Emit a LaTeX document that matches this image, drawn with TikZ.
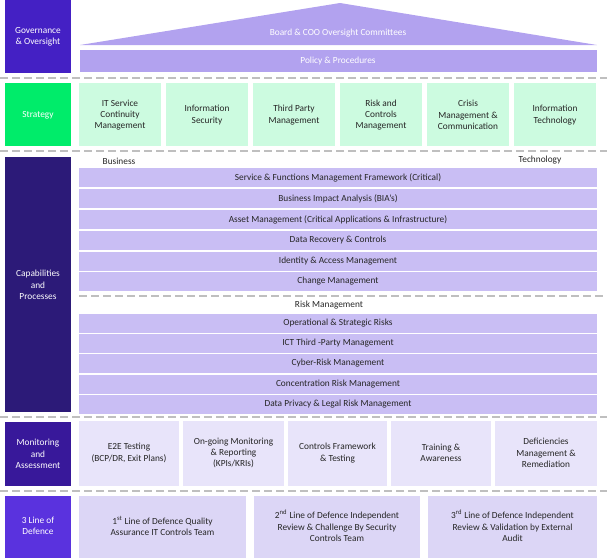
\documentclass[tikz,border=0pt]{standalone}
\usepackage{fontspec}
\setmainfont{Carlito}
\begin{document}
\begin{tikzpicture}[x=0.75pt,y=-0.75pt,
  lab/.style={font=\fontsize{7}{8.5}\selectfont,align=center,text=white},
  txt/.style={font=\fontsize{7}{8.5}\selectfont,align=center,text=black!85},
  sepline/.style={draw=black!25,line width=1.5pt,dash pattern=on 6pt off 3pt}]
\definecolor{govc}{HTML}{4420C4}
\definecolor{stratc}{HTML}{00EC6A}
\definecolor{capc}{HTML}{2C1A78}
\definecolor{monl}{HTML}{38189A}
\definecolor{lodl}{HTML}{5A32DE}
\definecolor{roofc}{HTML}{B2A2EF}
\definecolor{sgreen}{HTML}{CCFBE0}
\definecolor{barc}{HTML}{C9BEF4}
\definecolor{monc}{HTML}{E8E4FA}
\definecolor{lodc}{HTML}{DCD6F6}
\useasboundingbox (0,0) rectangle (607,558);
% left column
\fill[govc] (5,0) rectangle (71,73); \node[lab] (g) at (38,37) {Governance\\\& Oversight};
\fill[stratc] (5,83) rectangle (71,146); \node[lab] (s) at (38,115) {Strategy};
\fill[capc] (5,157) rectangle (71,412); \node[lab] (c) at (38,285) {Capabilities\\and\\Processes};
\fill[monl] (5,422) rectangle (71,486); \node[lab] (m) at (38,454) {Monitoring\\and\\Assessment};
\fill[lodl] (5,496) rectangle (71,558); \node[lab] (l) at (38,526) {3 Line of\\Defence};
% dashed separators
\foreach \y in {78,151,417,491} \draw[sepline] (0,\y) -- (607,\y);
\draw[sepline] (79,296) -- (607,296);
% governance
\fill[roofc] (80,45) -- (340,3) -- (597,45) -- cycle;
\node[txt,text=white] (b) at (338,33) {Board \& COO Oversight Committees};
\fill[roofc] (80,50) rectangle (597,72);
\node[txt,text=white] (p) at (338,61) {Policy \& Procedures};
% strategy
\foreach \i/\t in {0/{IT Service\\Continuity\\Management},1/{Information\\Security},2/{Third Party\\Management},3/{Risk and\\Controls\\Management},4/{Crisis\\Management \&\\Communication},5/{Information\\Technology}}{
  \fill[sgreen] ({79+\i*87},83) rectangle ({79+\i*87+82},146);
  \node[txt] (st\i) at ({79+\i*87+41},115) {\t};}
% capabilities
\node[txt] (bus) at (119,161) {Business};
\node[txt] (tec) at (540,160) {Technology};
\foreach \y/\t [count=\k] in {168/{Service \& Functions Management Framework (Critical)},189/{Business Impact Analysis (BIA's)},210/{Asset Management (Critical Applications \& Infrastructure)},231/{Data Recovery \& Controls},252/{Identity \& Access Management},272/{Change Management},314/{Operational \& Strategic Risks},334/{ICT Third -Party Management},354/{Cyber-Risk Management},375/{Concentration Risk Management},395/{Data Privacy \& Legal Risk Management}}{
  \fill[barc] (79,\y) rectangle (597,\y+19);
  \node[txt] (cb\k) at (338,\y+9.5) {\t};}
\node[txt] (rm) at (329,305) {Risk Management};
% monitoring
\foreach \a/\b/\t [count=\k] in {79/179/{E2E Testing\\(BCP/DR, Exit Plans)},183/284/{On-going Monitoring\\\& Reporting\\(KPIs/KRIs)},288/387/{Controls Framework\\\& Testing},391/491/{Training \&\\Awareness},495/597/{Deficiencies\\Management \&\\Remediation}}{
  \fill[monc] (\a,421) rectangle (\b,486);
  \node[txt] (mo\k) at ({(\a+\b)/2},453) {\t};}
% 3 lines
\foreach \a/\b/\t [count=\k] in {79/246/{1\textsuperscript{st} Line of Defence Quality\\Assurance IT Controls Team},254/420/{2\textsuperscript{nd} Line of Defence Independent\\Review \& Challenge By Security\\Controls Team},428/597/{3\textsuperscript{rd} Line of Defence Independent\\Review \& Validation by External\\Audit}}{
  \fill[lodc] (\a,496) rectangle (\b,558);
  \node[txt] (lo\k) at ({(\a+\b)/2},526) {\t};}
\end{tikzpicture}
\end{document}
